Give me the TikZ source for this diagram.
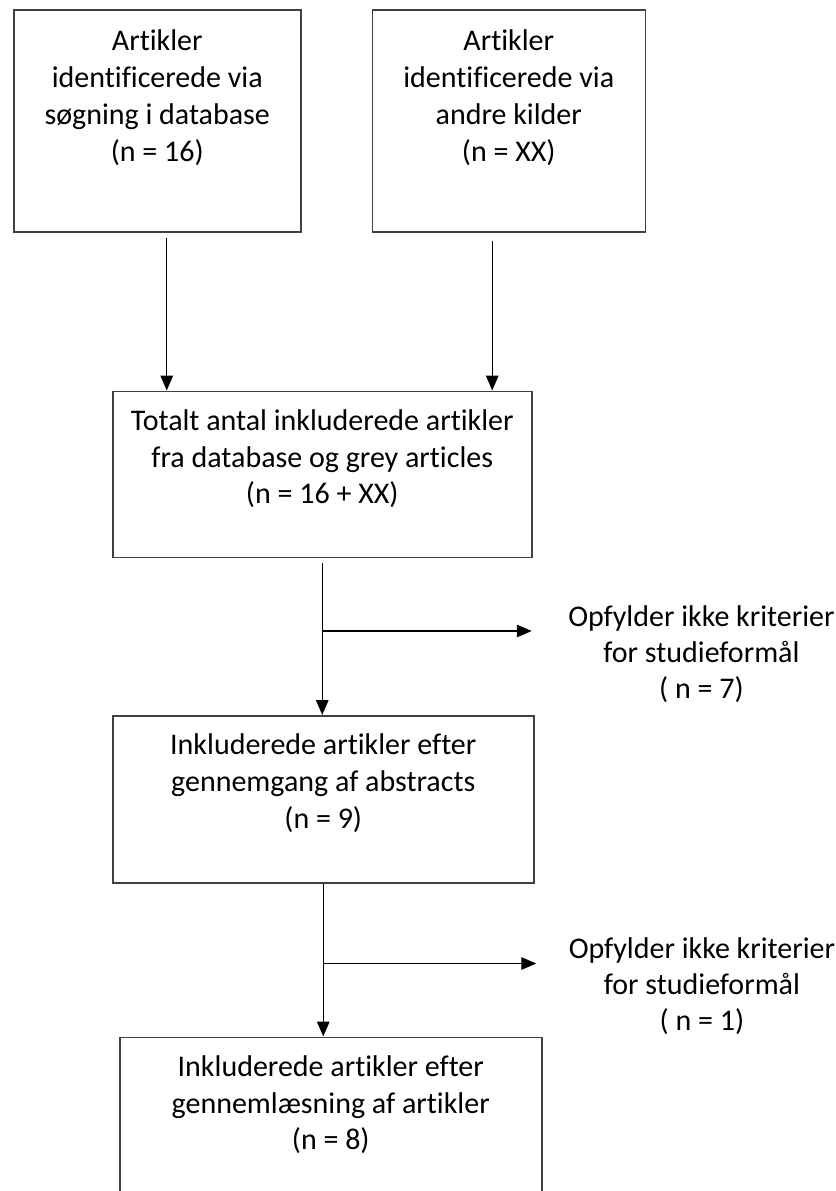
\documentclass[tikz,border=0pt]{standalone}
\usepackage{fontspec}
\setmainfont{Carlito}[Ligatures=NoCommon]
\usepackage{tikz}
\usetikzlibrary{arrows.meta, positioning}

\begin{document}
\begin{tikzpicture}[
  box/.style={
    rectangle, draw=black!75, line width=0.6pt,
    inner xsep=4pt, inner ysep=0pt,
    text height=15.6pt, text depth=51pt,
    align=flush center, font=\fontsize{12pt}{14.7pt}\selectfont
  },
  note/.style={
    inner sep=0pt, align=flush center,
    font=\fontsize{12pt}{14.4pt}\selectfont
  },
  arrow/.style={-{Triangle[length=6pt, width=5pt]}, line width=0.55pt}
]
\useasboundingbox (-5.2pt,3.6pt) rectangle (329.2pt,-472.8pt);

% Kilder
\node[box, text width=106.8pt, text height=16.4pt, text depth=72.4pt,
      anchor=north west] (src1) at (0,0)
      {Artikler\\identificerede via\\søgning i database\\(n = 16)};
\node[box, text width=101.2pt, text height=16.4pt, text depth=72.4pt,
      right=28pt of src1] (src2)
      {Artikler\\identificerede via\\andre kilder\\(n = XX)};

% Screening
\node[box, text width=159.6pt, text depth=50.8pt,
      below=63.2pt of src1.south, xshift=66pt] (tot)
      {Totalt antal inkluderede artikler\\fra database og grey articles\\(n = 16 + XX)};
\node[box, text width=160.4pt, text depth=51.2pt,
      below=62.8pt of tot, xshift=0.4pt] (inc)
      {Inkluderede artikler efter\\gennemgang af abstracts\\(n = 9)};
\node[box, text width=160.8pt, text depth=51.6pt,
      below=61.2pt of inc, xshift=3pt] (fin)
      {Inkluderede artikler efter\\gennemlæsning af artikler\\(n = 8)};

% Ekskluderede
\coordinate (b1) at ([yshift=-29.2pt]tot.south);
\coordinate (b2) at ([yshift=-32pt]inc.south);
\node[note, right=98.2pt of b1, yshift=-9.2pt] (ex1)
      {Opfylder ikke kriterier\\for studieformål\\( n = 7)};
\node[note, right=98pt of b2, yshift=-9.2pt] (ex2)
      {Opfylder ikke kriterier\\for studieformål\\( n = 1)};

% Pile
\draw[arrow] ([xshift=3.8pt, yshift=-2pt]src1.south) coordinate (a1)
      -- (a1 |- tot.north);
\draw[arrow] ([xshift=-6.6pt, yshift=-3.2pt]src2.south) coordinate (a2)
      -- (a2 |- tot.north);
\draw[arrow] ([yshift=-2pt]tot.south) -- (tot.south |- inc.north);
\draw[arrow, shorten >=14.4pt] (b1) -- (b1 -| ex1.west);
\draw[arrow] (inc.south) -- (inc.south |- fin.north);
\draw[arrow, shorten >=12.8pt] (b2) -- (b2 -| ex2.west);

\end{tikzpicture}
\end{document}
